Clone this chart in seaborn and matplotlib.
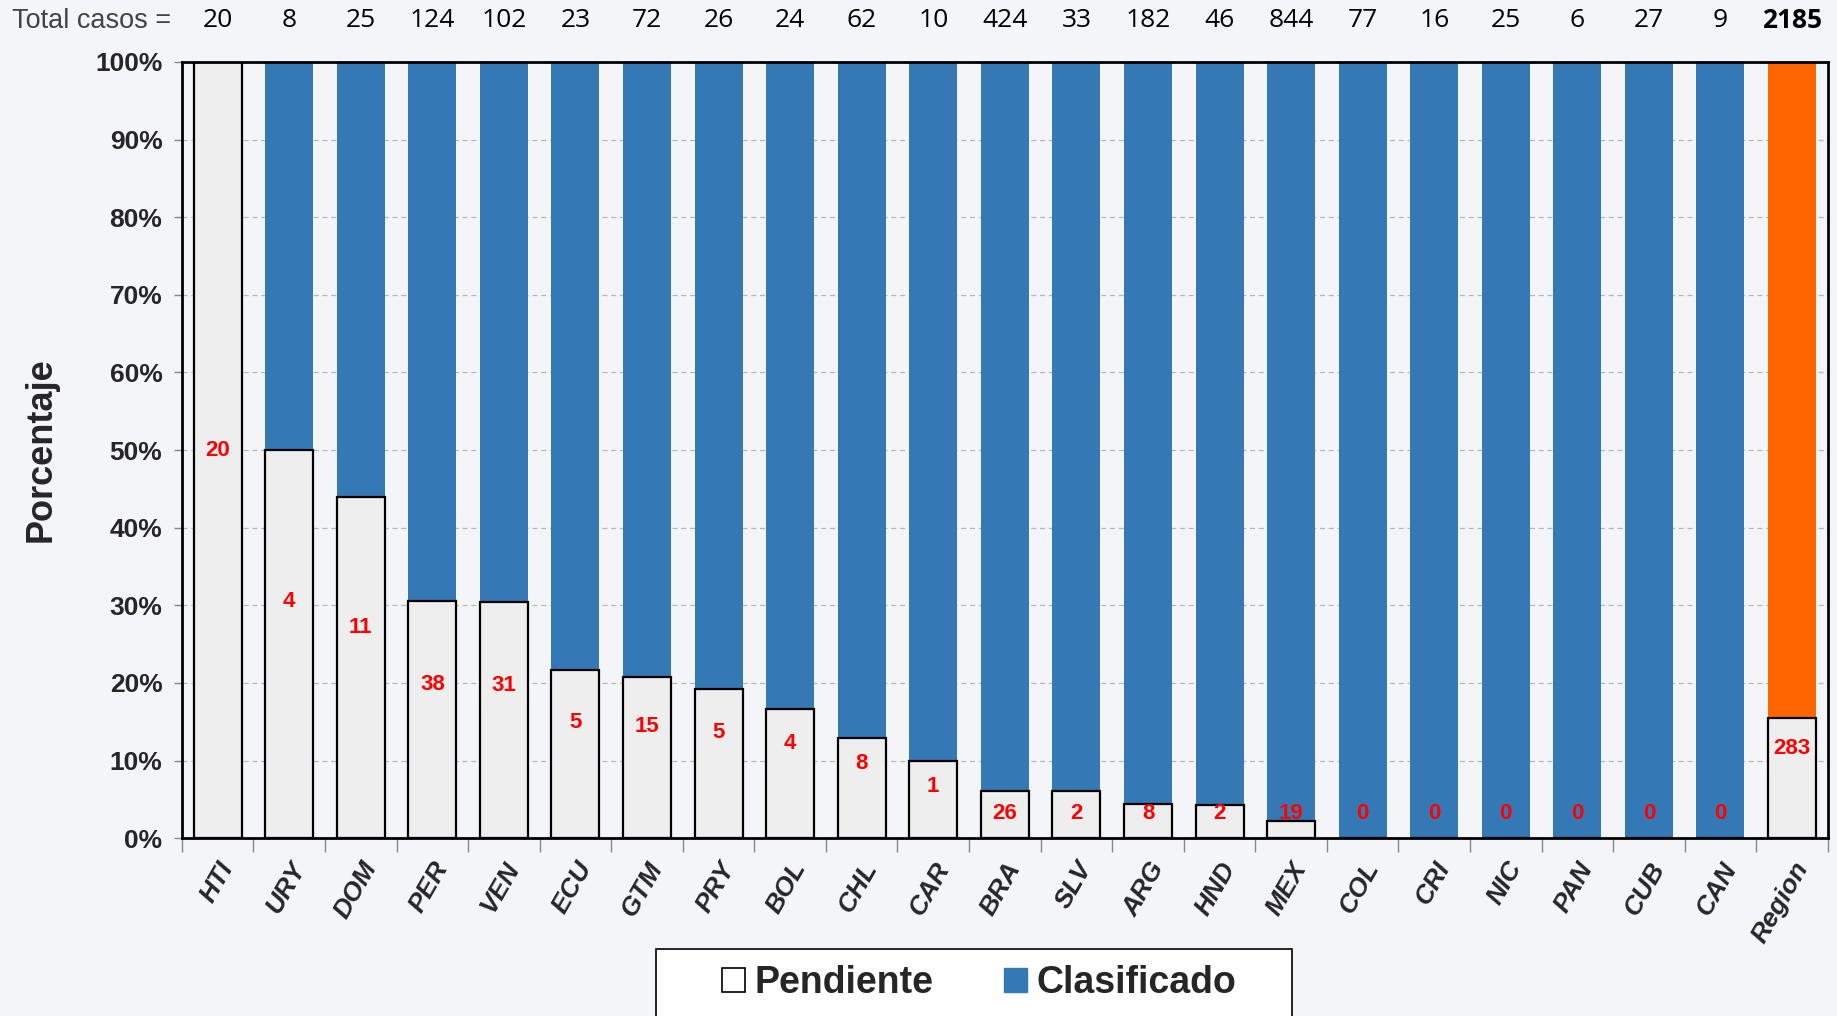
import matplotlib
matplotlib.use("Agg")
import matplotlib.pyplot as plt
import seaborn as sns
import pandas as pd
import numpy as np
from matplotlib.patches import Patch, Rectangle
from matplotlib.ticker import FixedLocator, FuncFormatter
from matplotlib.transforms import blended_transform_factory

# ---- data ----
categories = ["HTI", "URY", "DOM", "PER", "VEN", "ECU", "GTM", "PRY", "BOL", "CHL", "CAR",
              "BRA", "SLV", "ARG", "HND", "MEX", "COL", "CRI", "NIC", "PAN", "CUB", "CAN", "Region"]
total_casos = [20, 8, 25, 124, 102, 23, 72, 26, 24, 62, 10, 424, 33, 182, 46, 844, 77, 16, 25, 6, 27, 9, 2185]
pendiente_n = [20, 4, 11, 38, 31, 5, 15, 5, 4, 8, 1, 26, 2, 8, 2, 19, 0, 0, 0, 0, 0, 0, 283]
pendiente_pct = [100, 50, 44, 30.6, 30.4, 21.7, 20.8, 19.2, 16.7, 12.9, 10.0,
                 6.1, 6.1, 4.4, 4.3, 2.2, 0, 0, 0, 0, 0, 0, 15.5]
clasificado_pct = [100 - p for p in pendiente_pct]

df = pd.DataFrame({"pais": categories, "pend": pendiente_pct, "clas": clasificado_pct,
                   "total": [100] * len(categories)})

BLUE = "#3479B5"
ORANGE = "#FF6600"
PEND = "#EEEEEE"
BG = "#F3F5F8"

sns.set_style("white")
plt.rcParams["font.family"] = ["Liberation Sans", "DejaVu Sans"]

W, H = 1837, 1016
fig = plt.figure(figsize=(W / 100, H / 100), dpi=100, facecolor=BG)
ax = fig.add_axes([0.099, 0.175, 0.896, 0.764])
ax.set_facecolor(BG)

# full-height classified bars (blue / orange for Region)
pal = {c: (ORANGE if c == "Region" else BLUE) for c in categories}
sns.barplot(data=df, x="pais", y="total", hue="pais", palette=pal, dodge=False,
            width=0.67, legend=False, ax=ax, saturation=1, linewidth=0, order=categories)
# pending bars over them
sns.barplot(data=df, x="pais", y="pend", color=PEND, width=0.67, ax=ax, saturation=1,
            edgecolor="black", linewidth=1.6, order=categories)

ax.set_xlim(-0.5, len(categories) - 0.5)
ax.set_ylim(0, 100)
ax.yaxis.set_major_locator(FixedLocator(np.arange(0, 101, 10)))
ax.yaxis.set_major_formatter(FuncFormatter(lambda v, p: f"{int(v)}%"))
ax.grid(axis="y", color="#B8B8B8", linestyle=(0, (4, 3)), linewidth=0.9)
ax.set_axisbelow(True)

for s in ax.spines.values():
    s.set_visible(True)
    s.set_color("black")
    s.set_linewidth(2)

ax.tick_params(axis="y", which="major", length=6, width=1, color="#888888", direction="out",
               labelsize=19, pad=8, left=True)
for lab in ax.get_yticklabels():
    lab.set_fontweight("bold")

# x ticks: labels at centers, tick marks at boundaries
ax.set_xticks(range(len(categories)))
ax.set_xticklabels(categories, rotation=60, ha="right", rotation_mode="anchor")
for lab in ax.get_xticklabels():
    lab.set_fontsize(19)
    lab.set_fontweight("bold")
    lab.set_fontstyle("italic")
ax.tick_params(axis="x", which="major", length=0, pad=14)
ax.set_xticks(np.arange(-0.5, len(categories), 1), minor=True)
ax.tick_params(axis="x", which="minor", length=10, width=1, color="#888888", direction="out",
               bottom=True)

ax.set_xlabel("")
ax.set_ylabel("Porcentaje", fontsize=26, fontweight="bold", labelpad=26)

# red count labels
for i, (p, n) in enumerate(zip(pendiente_pct, pendiente_n)):
    if p >= 100:
        y = p / 2
    else:
        y = max(min(p * 0.55 + 3, p - 3.3), 3.2)
    ax.text(i, y, str(n), color="#FF0000", fontsize=16, fontweight="bold",
            ha="center", va="center")

# top totals row
tr = blended_transform_factory(ax.transData, ax.transAxes)
for i, t in enumerate(total_casos):
    ax.text(i, 1.053, str(t), transform=tr, ha="center", va="center", fontsize=19,
            fontweight="bold" if categories[i] == "Region" else "normal",
            family=["Open Sans", "DejaVu Sans"], color="black")
fig.text(0.0065, 0.979, "Total casos =", ha="left", va="center", fontsize=19.5,
         color="#444444", family=["Liberation Sans Narrow", "Liberation Sans", "DejaVu Sans"])

# legend box (frame drawn in figure coordinates)
x0, x1, y0 = 656 / W, 1292 / W, 1 - 949 / H
fig.patches.append(Rectangle((x0, -0.05), x1 - x0, y0 + 0.05, transform=fig.transFigure,
                             facecolor="white", edgecolor="black", linewidth=1.2, zorder=0))
handles = [Patch(facecolor="white", edgecolor="black", linewidth=1.2, label="Pendiente"),
           Patch(facecolor=BLUE, edgecolor=BLUE, label="Clasificado")]
leg = fig.legend(handles=handles, loc="center", bbox_to_anchor=(0.533, 1 - 983 / H), ncol=2,
                 frameon=False, prop={"size": 27, "weight": "bold"},
                 handlelength=0.6, handleheight=0.6, handletextpad=0.25,
                 columnspacing=1.9, borderpad=0, borderaxespad=0)

fig.savefig("out.png", dpi=100, facecolor=BG)
